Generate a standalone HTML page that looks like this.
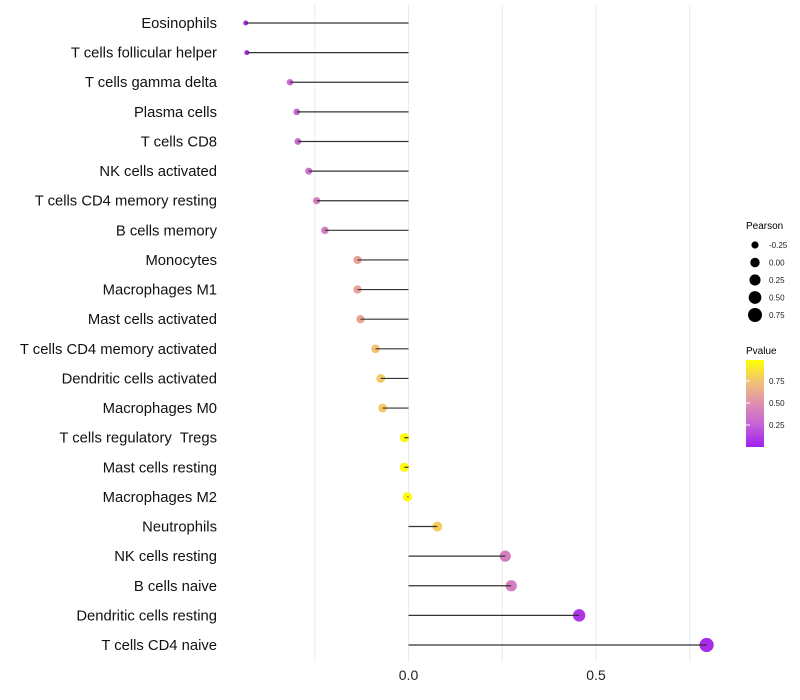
<!DOCTYPE html>
<html><head><meta charset="utf-8"><style>
body{margin:0;background:#fff;font-family:"Liberation Sans",sans-serif}
svg{display:block}
</style></head><body>
<svg id="chart" width="800" height="700">
<g id="grid"></g><g id="pts"></g><g id="marks"></g><g id="labels"></g><g id="xaxis"></g>
<g id="legend">
<text x="746" y="229" font-size="10" fill="#000">Pearson</text>
<defs><linearGradient id="pg" x1="0" y1="1" x2="0" y2="0">
<stop offset="0" stop-color="#a020f0"/><stop offset="0.25" stop-color="#c561d8"/><stop offset="0.5" stop-color="#df8fb0"/><stop offset="0.75" stop-color="#f2c275"/><stop offset="1" stop-color="#ffff00"/></linearGradient></defs>
<text x="746" y="354" font-size="10" fill="#000">Pvalue</text>
<rect x="746" y="360" width="18" height="87" fill="url(#pg)"/>
</g>
</svg>
<script>
const cells=["Eosinophils","T cells follicular helper","T cells gamma delta","Plasma cells","T cells CD8","NK cells activated","T cells CD4 memory resting","B cells memory","Monocytes","Macrophages M1","Mast cells activated","T cells CD4 memory activated","Dendritic cells activated","Macrophages M0","T cells regulatory  Tregs","Mast cells resting","Macrophages M2","Neutrophils","NK cells resting","B cells naive","Dendritic cells resting","T cells CD4 naive"];
const pearson=[-0.434,-0.431,-0.316,-0.298,-0.295,-0.266,-0.245,-0.223,-0.136,-0.136,-0.128,-0.088,-0.074,-0.069,-0.011,-0.011,-0.003,0.077,0.258,0.274,0.455,0.795];
const pvalue=[0.04,0.05,0.3,0.3,0.3,0.35,0.4,0.4,0.6,0.6,0.62,0.75,0.78,0.78,0.98,0.98,0.98,0.8,0.4,0.4,0.08,0.05];
const xTicks=[0,0.5];
const gridVals=[-0.25,0,0.25,0.5,0.75];
const sizeLegend=[-0.25,0,0.25,0.5,0.75];
const pTicks=[0.25,0.5,0.75];
const NS="http://www.w3.org/2000/svg";
const xs=v=>408.5+v*375;
const ys=i=>23+i*(622/21);
const rs=v=>Math.sqrt(Math.max(2,22+36*v));
const stops=[[0,[160,32,240]],[0.25,[197,97,216]],[0.5,[223,143,176]],[0.75,[242,194,117]],[1,[255,255,0]]];
function col(p){for(let k=1;k<stops.length;k++){if(p<=stops[k][0]){const a=stops[k-1],b=stops[k],t=(p-a[0])/(b[0]-a[0]);const c=a[1].map((x,j)=>Math.round(x+(b[1][j]-x)*t));return`rgb(${c})`;}}return"rgb(255,255,0)";}
function mk(tag,at,par){const e=document.createElementNS(NS,tag);for(const k in at)e.setAttribute(k,at[k]);document.getElementById(par).appendChild(e);return e;}
gridVals.forEach(v=>{const e=mk("line",{x1:xs(v),x2:xs(v),y1:5,y2:662,stroke:"#ebebeb","stroke-width":1},"grid");

});
cells.forEach((c,i)=>{const y=ys(i);
const d=mk("circle",{cx:xs(pearson[i]),cy:y,r:rs(pearson[i]),fill:col(pvalue[i])},"pts");


const l=mk("line",{x1:xs(0),x2:xs(pearson[i]),y1:y,y2:y,stroke:"#333","stroke-width":1.2},"marks");


const t=mk("text",{x:217,y:y+5,"text-anchor":"end","font-size":14.8,fill:"#111","xml:space":"preserve",style:"white-space:pre"},"labels");t.textContent=c;

});
xTicks.forEach(v=>{const t=mk("text",{x:xs(v),y:680,"text-anchor":"middle","font-size":14,fill:"#222"},"xaxis");t.textContent=v.toFixed(1);

});
sizeLegend.forEach((v,k)=>{const y=245+k*17.5;
const c=mk("circle",{cx:755,cy:y,r:rs(v),fill:"#000"},"legend");


const t=mk("text",{x:769,y:y+3,"font-size":8,fill:"#222"},"legend");t.textContent=v.toFixed(2);

});
pTicks.forEach(p=>{const y=447-p*88;
const t=mk("text",{x:769,y:y+3,"font-size":8,fill:"#222"},"legend");t.textContent=p.toFixed(2);


const l=mk("line",{x1:746,x2:750,y1:y,y2:y,stroke:"#fff"},"legend");

});
</script>
</body></html>
